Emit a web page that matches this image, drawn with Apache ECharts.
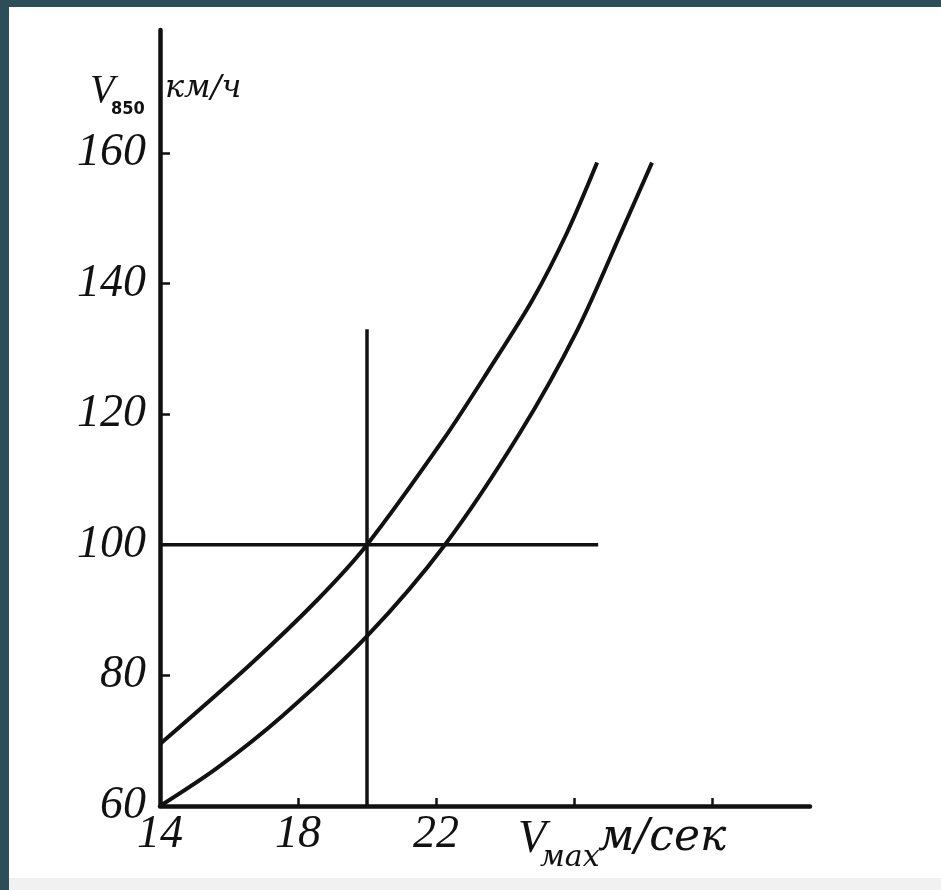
<!DOCTYPE html>
<html>
<head>
<meta charset="utf-8">
<script src="https://cdn.jsdelivr.net/npm/echarts@6/dist/echarts.min.js"></script>
<style>
  html, body { margin: 0; padding: 0; width: 941px; height: 890px; background: #2d4d58; overflow: hidden; }
  #chart {
    position: absolute; left: 9px; top: 7px; width: 932px; height: 883px;
    background: linear-gradient(to bottom, #ffffff 0, #ffffff 871px, #f1f1f1 871px);
  }
</style>
</head>
<body>
<div id="chart"></div>
<script>
// Wind speed at 850 hPa (km/h) against maximum wind speed (m/s)
const xTicks = [14, 18, 22, 26, 30];
const xTickLabels = [14, 18, 22];
const yTicks = [60, 80, 100, 120, 140, 160];

// Upper curve
const upperX = [14, 16.6, 18.55, 20, 22.2, 23.5, 24.8, 25.8, 26.67];
const upperY = [69.5, 81.6, 91.5, 100, 116, 126.5, 137.5, 147.8, 158.5];

// Lower curve
const lowerX = [14, 15.65, 17.57, 20, 22.26, 24.43, 26.1, 27.4, 28.26];
const lowerY = [60, 65.8, 73.9, 86, 100, 117.1, 132.9, 148.2, 158.5];

// Reading guide lines: vertical at V_max = 20, horizontal at V_850 = 100
const guideX = 20;
const guideXTop = 133;
const guideY = 100;
const guideYEnd = 26.7;

const axisMin = { x: 14, y: 60 };
const axisMax = { x: 32.84, y: 178.8 };

const pairs = (xs, ys) => xs.map((x, i) => [x, ys[i]]);
const ink = '#111';
const serifItalic = { fontFamily: 'Liberation Serif', fontStyle: 'italic', color: ink };

const chart = echarts.init(document.getElementById('chart'));

const curveStyle = { color: ink, width: 4 };

function label(text, left, top, font) {
  return { type: 'text', left, top, style: { text, font, fill: ink } };
}

chart.setOption({
  animation: false,
  backgroundColor: 'transparent',
  grid: { left: 151, right: 131, top: 23, bottom: 84, containLabel: false },
  xAxis: {
    type: 'value',
    min: axisMin.x, max: axisMax.x, interval: 4,
    splitLine: { show: false },
    axisLine: { lineStyle: { color: ink, width: 4.5 } },
    axisTick: { inside: true, length: 8, customValues: xTicks, lineStyle: { color: ink, width: 2.5 } },
    axisLabel: Object.assign({ customValues: xTickLabels, fontSize: 46, margin: 6 }, serifItalic)
  },
  yAxis: {
    type: 'value',
    min: axisMin.y, max: axisMax.y, interval: 20,
    splitLine: { show: false },
    axisLine: { lineStyle: { color: ink, width: 4.5 } },
    axisTick: { inside: true, length: 10, customValues: yTicks, lineStyle: { color: ink, width: 2.5 } },
    axisLabel: Object.assign({ customValues: yTicks, fontSize: 46, margin: 14 }, serifItalic)
  },
  series: [
    { type: 'line', data: pairs(upperX, upperY), smooth: 0.3, symbol: 'none', lineStyle: curveStyle },
    { type: 'line', data: pairs(lowerX, lowerY), smooth: 0.3, symbol: 'none', lineStyle: curveStyle },
    { type: 'line', data: [[guideX, axisMin.y], [guideX, guideXTop]], symbol: 'none', lineStyle: { color: ink, width: 3.5 } },
    { type: 'line', data: [[axisMin.x, guideY], [guideYEnd, guideY]], symbol: 'none', lineStyle: { color: ink, width: 3.5 } }
  ],
  graphic: [
    // y-axis name: V850 км/ч
    label('V', 81, 64, 'italic 40px "Liberation Serif"'),
    label('850', 102, 93, 'bold 18px "DejaVu Sans Condensed", "DejaVu Sans"'),
    label('км/ч', 156, 66, 'italic 32px "DejaVu Serif"'),
    // x-axis name: Vмах м/сек
    label('V', 509, 810, 'italic 46px "Liberation Serif"'),
    label('мах', 531, 836, 'italic 30px "DejaVu Serif"'),
    label('м/сек', 589, 810, 'italic 44px "DejaVu Serif"')
  ]
});
</script>
</body>
</html>
